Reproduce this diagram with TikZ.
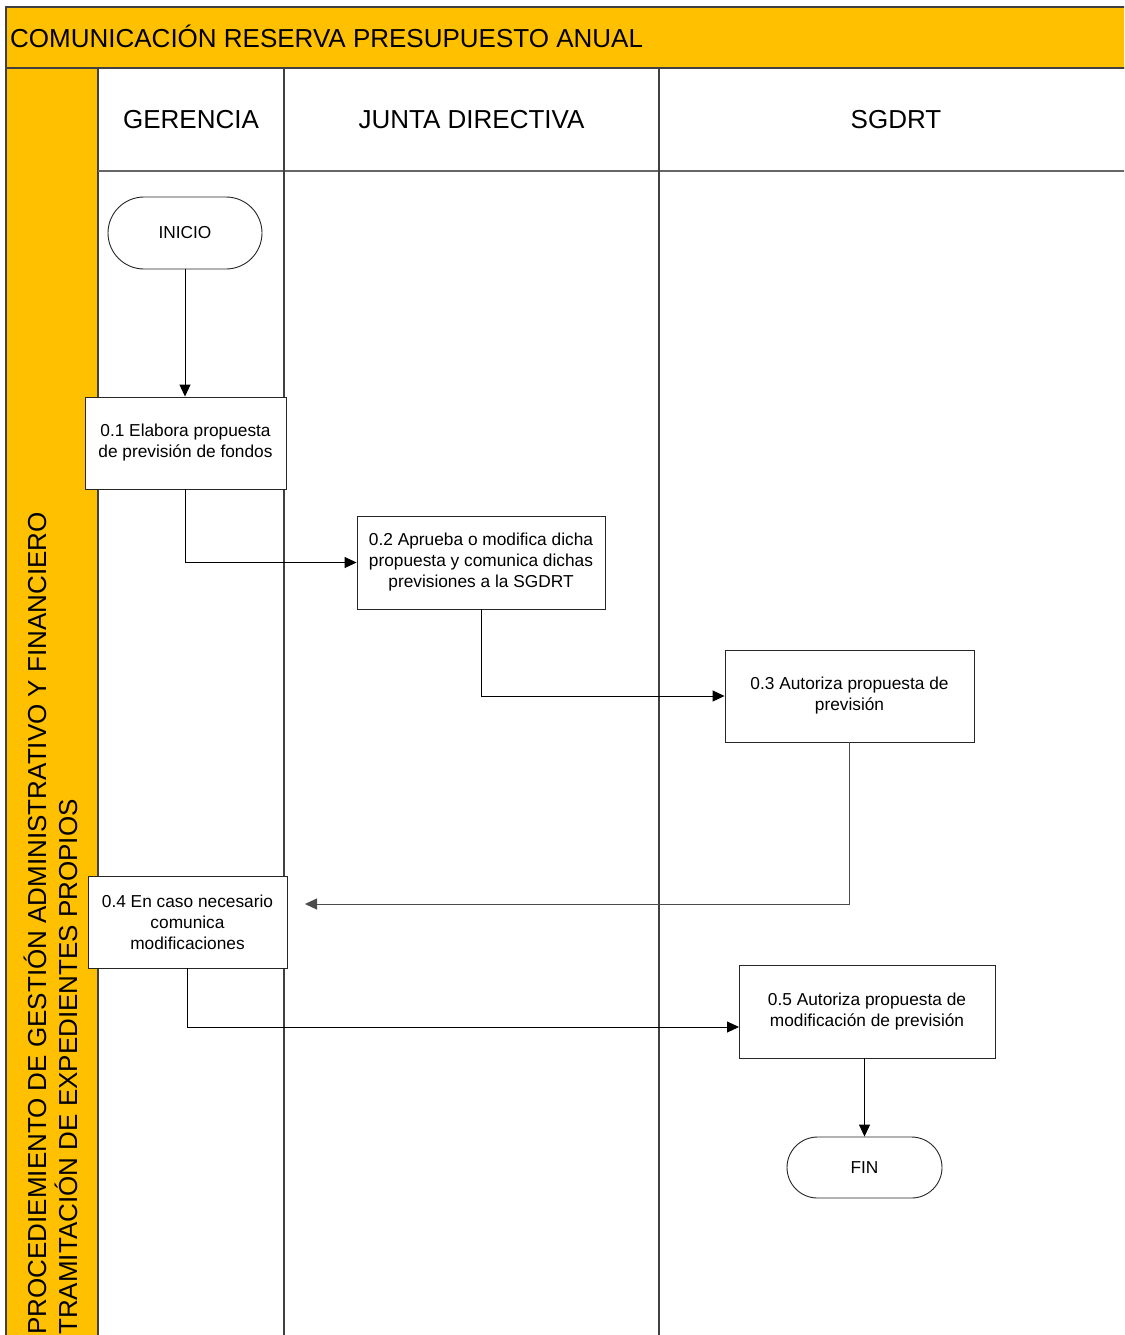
\documentclass[tikz,border=0pt]{standalone}
\usepackage{fontspec}
\setmainfont{Liberation Sans}
\usetikzlibrary{arrows.meta,shapes.misc,calc}
\definecolor{band}{HTML}{FFC000}
\definecolor{lanecol}{HTML}{404040}
\tikzset{
  x=1pt,y=-1pt,
  bigtext/.style={font=\fontsize{26}{31}\selectfont},
  smalltext/.style={font=\fontsize{17.3}{21}\selectfont},
  lanerule/.style={draw=lanecol,line width=1.3pt},
  procbox/.style={draw=black!85,line width=0.9pt,fill=white,smalltext,align=center,inner sep=0pt},
  terminal/.style={draw=black!85,line width=0.9pt,fill=white,rounded rectangle,smalltext,inner sep=0pt},
  flow/.style={draw=black,line width=0.9pt,-{Triangle[length=12pt,width=11pt]}},
}
\begin{document}
\begin{tikzpicture}
\useasboundingbox (0,0) rectangle (1124,1335);
\clip (0,0) rectangle (1124,1335);
\fill[white] (0,0) rectangle (1124,1335);
% title band
\path[fill=band,lanerule] (6,7) rectangle (1140,68);
\node[bigtext,anchor=west,inner sep=0pt] (title) at (10,36) {COMUNICACIÓN RESERVA PRESUPUESTO ANUAL};
% left pool column
\path[fill=band,lanerule] (6,68) rectangle (98,1345);
% header rule and lane dividers
\draw[draw=lanecol!80,line width=1.3pt] (98,171) -- (1140,171);
\draw[lanerule] (284,68) -- (284,1345);
\draw[lanerule] (659,68) -- (659,1345);
\draw[lanerule] (6,68) -- (1140,68);
% lane headers
\node[bigtext,inner sep=0pt] (h1) at (191,120) {GERENCIA};
\node[bigtext,inner sep=0pt] (h2) at (471.5,120) {JUNTA DIRECTIVA};
\node[bigtext,inner sep=0pt] (h3) at (896,120) {SGDRT};
% vertical pool titles
\node[bigtext,rotate=90,anchor=east,inner sep=0pt] (p1) at (35,512) {PROCEDIEMIENTO DE GESTIÓN ADMINISTRATIVO Y FINANCIERO};
\node[bigtext,rotate=90,anchor=east,inner sep=0pt] (p2) at (66,799) {TRAMITACIÓN DE EXPEDIENTES PROPIOS};
% nodes
\node[terminal,minimum width=154pt,minimum height=72pt] (ini) at (185,233) {INICIO};
\node[procbox,minimum width=201pt,minimum height=92pt] (s1) at (185.5,443) {0.1 Elabora propuesta\\de previsión de fondos};
\node[procbox,minimum width=248pt,minimum height=93pt] (s2) at (481,562.5) {0.2 Aprueba o modifica dicha\\propuesta y comunica dichas\\previsiones a la SGDRT};
\node[procbox,minimum width=249pt,minimum height=92pt] (s3) at (849.5,696) {0.3 Autoriza propuesta de\\previsión};
\node[procbox,minimum width=199pt,minimum height=92pt] (s4) at (187.5,922) {0.4 En caso necesario\\comunica\\modificaciones};
\node[procbox,minimum width=256pt,minimum height=93pt] (s5) at (867,1011.5) {0.5 Autoriza propuesta de\\modificación de previsión};
\node[terminal,minimum width=155pt,minimum height=61pt] (fin) at (864.5,1167.5) {FIN};
% free end / entry coordinates
\coordinate (c4) at (305,904);
\coordinate (c5) at (739,1027);
% connectors
\draw[flow] (ini.south) -- (ini.south |- s1.north);
\draw[flow] (s1.south) |- (s2.west);
\draw[flow] (s2.south) |- (s3.west);
\draw[flow,draw=black!70] (s3.south) |- (c4);
\draw[flow] (s4.south) |- (c5);
\draw[flow] (fin.north |- s5.south) -- (fin.north);
\end{tikzpicture}
\end{document}
